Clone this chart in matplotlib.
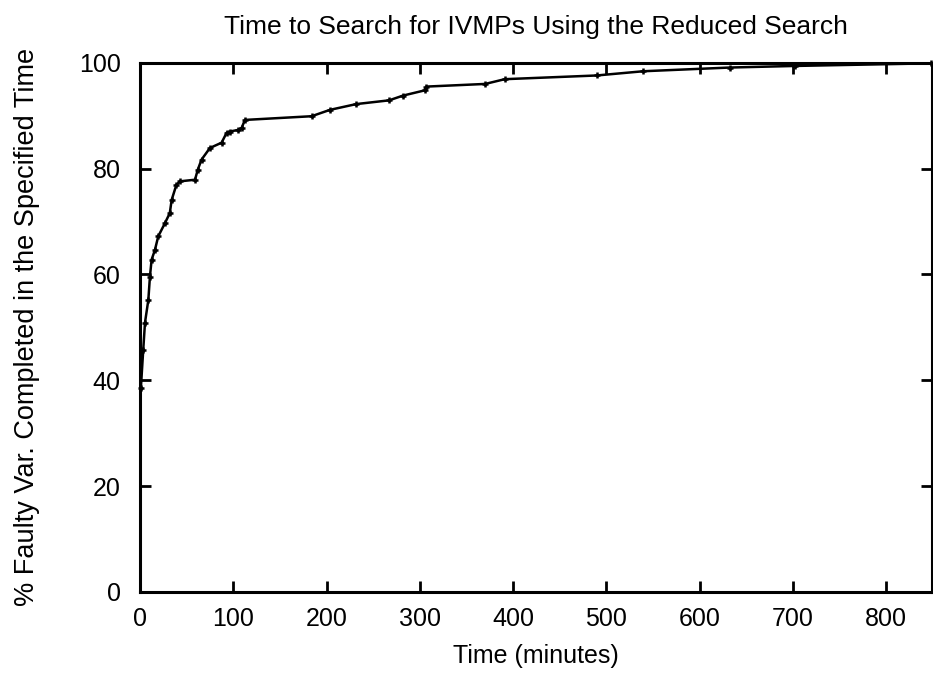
import matplotlib
matplotlib.use("Agg")
import matplotlib.pyplot as plt

plt.rcParams['font.family'] = ['Liberation Sans', 'DejaVu Sans']

time_min = [1, 3.5, 5.4, 9, 10.7, 12.5, 16, 19.6, 26.8, 32, 34, 39, 43, 59, 62, 66,
            75, 87.5, 93, 96, 105, 109, 112.5, 184, 203.6, 232, 267, 282, 305.5, 307,
            370, 391, 489.5, 539.5, 632, 702, 848]
pct_done = [38.6, 45.7, 50.9, 55.2, 59.6, 62.8, 64.6, 67.2, 69.7, 71.6, 74.1, 76.9, 77.6,
            77.9, 79.8, 81.7, 83.9, 84.9, 86.8, 87.0, 87.3, 87.7, 89.2, 89.9, 91.1, 92.2,
            92.9, 93.8, 94.8, 95.5, 96.0, 96.9, 97.6, 98.4, 99.1, 99.4, 99.9]

title = "Time to Search for IVMPs Using the Reduced Search"
xlabel = "Time (minutes)"
ylabel = "% Faulty Var. Completed in the Specified Time"
xticks = [0, 100, 200, 300, 400, 500, 600, 700, 800]
yticks = [0, 20, 40, 60, 80, 100]

fig = plt.figure(figsize=(9.33, 6.75), dpi=100)
ax = fig.add_axes([0.150, 0.123, 0.849, 0.784])

ax.plot(time_min, pct_done, color='black', linewidth=1.8, marker='+',
        markersize=5, markeredgewidth=1.8, clip_on=False)

ax.set_xlim(0, 849)
ax.set_ylim(0, 100)
ax.set_xticks(xticks)
ax.set_yticks(yticks)

for s in ax.spines.values():
    s.set_linewidth(2.2)

ax.tick_params(direction='in', length=8, width=2, top=True, right=True,
               labelsize=18)
ax.tick_params(axis='x', pad=11)
ax.tick_params(axis='y', pad=14)

ax.set_title(title, fontsize=19, pad=21)
ax.set_xlabel(xlabel, fontsize=18, labelpad=9)
ax.set_ylabel(ylabel, fontsize=19.5, labelpad=28)

fig.savefig("out.png", dpi=100)
